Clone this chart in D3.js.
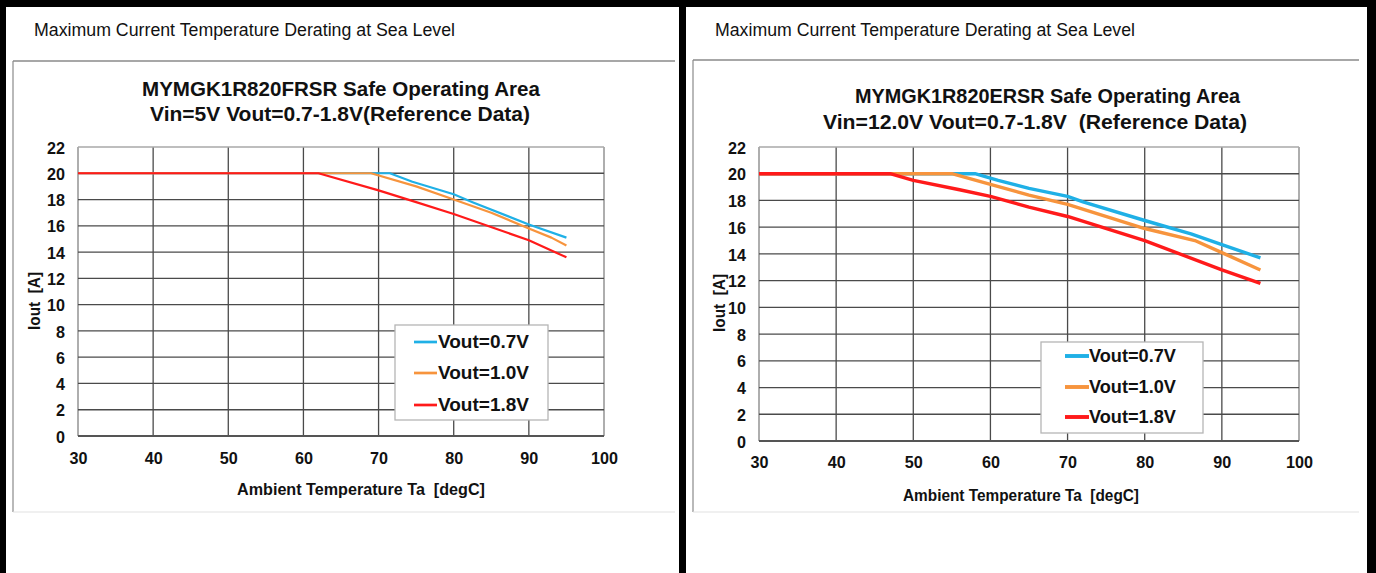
<!DOCTYPE html>
<html><head><meta charset="utf-8">
<script src="https://cdn.jsdelivr.net/npm/d3@7"></script>
<style>html,body{margin:0;padding:0;background:#fff;overflow:hidden}svg{display:block}text{white-space:pre}</style>
</head><body>
<script>
// ---------- data ----------
const xTicks = [30, 40, 50, 60, 70, 80, 90, 100];
const yTicks = [0, 2, 4, 6, 8, 10, 12, 14, 16, 18, 20, 22];
const seriesNames = ["Vout=0.7V", "Vout=1.0V", "Vout=1.8V"];
const seriesColors = ["#1FB0E6", "#F7943D", "#FF1A1A"];

// Left chart: Vin=5V
const leftT07 = [30, 71.5, 74.5, 80, 82.5, 90, 95];
const leftI07 = [20, 20, 19.35, 18.4, 17.8, 16.1, 15.1];
const leftT10 = [30, 69, 75, 80, 85, 90, 93, 95];
const leftI10 = [20, 20, 19.0, 18.0, 17.0, 15.8, 15.1, 14.5];
const leftT18 = [30, 62, 70, 75, 80, 90, 95];
const leftI18 = [20, 20, 18.7, 17.8, 16.9, 14.9, 13.6];

// Right chart: Vin=12.0V
const rightT07 = [30, 58, 61, 65, 70, 72, 80, 86, 90, 95];
const rightI07 = [20, 20, 19.5, 18.9, 18.3, 17.9, 16.5, 15.5, 14.7, 13.7];
const rightT10 = [30, 55, 60, 65, 70, 80, 86.5, 90, 95];
const rightI10 = [20, 20, 19.2, 18.4, 17.7, 15.9, 15.0, 14.1, 12.8];
const rightT18 = [30, 47, 50, 56, 60, 65, 70, 80, 90, 95];
const rightI18 = [20, 20, 19.5, 18.8, 18.3, 17.5, 16.8, 15.0, 12.8, 11.8];

const headerText = "Maximum Current Temperature Derating at Sea Level";
const leftTitle = ["MYMGK1R820FRSR Safe Operating Area", "Vin=5V Vout=0.7-1.8V(Reference Data)"];
const rightTitle = ["MYMGK1R820ERSR Safe Operating Area", "Vin=12.0V Vout=0.7-1.8V  (Reference Data)"];
const xTitle = "Ambient Temperature Ta  [degC]";
const yTitle = "Iout  [A]";

// ---------- drawing ----------
const W = 1376, H = 573;
const svg = d3.select("body").append("svg").attr("width", W).attr("height", H);
svg.append("rect").attr("width", W).attr("height", H).attr("fill", "#fff");
const FONT = "'Liberation Sans', Arial, sans-serif";

function zip(t, i) { return t.map((v, k) => ({t: v, i: i[k]})); }

function drawPanel(cfg) {
  const g = svg.append("g");
  // header
  g.append("text").attr("x", cfg.headerX).attr("y", 36)
    .attr("font-family", FONT).attr("font-size", 17.5).attr("fill", "#111")
    .attr("textLength", cfg.headerLen).attr("lengthAdjust", "spacingAndGlyphs")
    .text(headerText);
  // image frame
  g.append("line").attr("x1", cfg.frameX).attr("x2", cfg.frameR).attr("y1", cfg.frameTop).attr("y2", cfg.frameTop)
    .attr("stroke", "#8a8a8a").attr("stroke-width", 1.5);
  g.append("line").attr("x1", cfg.frameX).attr("x2", cfg.frameX).attr("y1", cfg.frameTop).attr("y2", 512)
    .attr("stroke", "#8a8a8a").attr("stroke-width", 1.2);
  g.append("line").attr("x1", cfg.frameX).attr("x2", cfg.frameR).attr("y1", 512).attr("y2", 512)
    .attr("stroke", "#e2e2e2").attr("stroke-width", 1.2);

  // titles
  cfg.titles.forEach((t, k) => {
    g.append("text").attr("x", cfg.titleX[k]).attr("y", cfg.titleY[k])
      .attr("dominant-baseline", "central")
      .attr("font-family", FONT).attr("font-weight", "bold").attr("font-size", 20.5).attr("fill", "#111")
      .attr("textLength", cfg.titleLen[k]).attr("lengthAdjust", "spacingAndGlyphs")
      .text(t);
  });

  const x = d3.scaleLinear().domain([30, 100]).range([cfg.x0, cfg.x1]);
  const y = d3.scaleLinear().domain([0, 22]).range([cfg.y0, cfg.y1]);

  // grid
  const grid = g.append("g");
  grid.selectAll("line.v").data(xTicks).enter().append("line")
    .attr("x1", d => x(d)).attr("x2", d => x(d)).attr("y1", y(0)).attr("y2", y(22))
    .attr("stroke", d => (d === 30 || d === 100) ? "#9a9a9a" : "#4a4a4a")
    .attr("stroke-width", d => (d === 30 || d === 100) ? 1.6 : 1.3);
  grid.selectAll("line.h").data(yTicks).enter().append("line")
    .attr("x1", x(30)).attr("x2", x(100)).attr("y1", d => y(d)).attr("y2", d => y(d))
    .attr("stroke", d => d === 22 ? "#a8a8a8" : (d === 0 ? "#555" : "#4a4a4a"))
    .attr("stroke-width", d => d === 0 ? 2.2 : 1.3);

  // axes labels via d3 axes
  const yAxis = g.append("g").attr("transform", `translate(${cfg.yLabelX},0)`)
    .call(d3.axisLeft(y).tickValues(yTicks).tickSize(0).tickPadding(0));
  yAxis.select(".domain").remove();
  yAxis.selectAll("text").attr("font-family", FONT).attr("font-weight", "bold").attr("font-size", 17).attr("fill", "#111").attr("dy", "0.36em")
    .attr("textLength", d => String(d).length * 9).attr("lengthAdjust", "spacingAndGlyphs");
  const xAxis = g.append("g").attr("transform", `translate(0,${cfg.xLabelY})`)
    .call(d3.axisBottom(x).tickValues(xTicks).tickSize(0).tickPadding(0).tickFormat(d3.format("d")));
  xAxis.select(".domain").remove();
  xAxis.selectAll("text").attr("font-family", FONT).attr("font-weight", "bold").attr("font-size", 17).attr("fill", "#111").attr("dy", "0.36em")
    .attr("textLength", d => String(d).length * 9).attr("lengthAdjust", "spacingAndGlyphs");

  // axis titles
  g.append("text").attr("x", cfg.xTitleX).attr("y", cfg.xTitleY).attr("dominant-baseline", "central")
    .attr("font-family", FONT).attr("font-weight", "bold").attr("font-size", 16.5).attr("fill", "#111")
    .attr("textLength", cfg.xTitleLen).attr("lengthAdjust", "spacingAndGlyphs").text(xTitle);
  g.append("text").attr("transform", `translate(${cfg.yTitleX},${cfg.yTitleY}) rotate(-90)`)
    .attr("text-anchor", "middle").attr("dominant-baseline", "central")
    .attr("font-family", FONT).attr("font-weight", "bold").attr("font-size", 16).attr("fill", "#111")
    .attr("textLength", 58).attr("lengthAdjust", "spacingAndGlyphs").text(yTitle);

  // series
  const line = d3.line().x(d => x(d.t)).y(d => y(d.i));
  cfg.series.forEach((s, k) => {
    g.append("path").datum(s).attr("d", line).attr("fill", "none")
      .attr("stroke", seriesColors[k]).attr("stroke-width", cfg.lw)
      .attr("stroke-linejoin", "round");
  });

  // legend
  const L = cfg.legend;
  g.append("rect").attr("x", L.x).attr("y", L.y).attr("width", L.w).attr("height", L.h)
    .attr("fill", "#fff").attr("stroke", "#b5b5b5").attr("stroke-width", 1.3);
  seriesNames.forEach((n, k) => {
    const yy = L.rowY[k];
    g.append("line").attr("x1", L.lx0).attr("x2", L.lx1).attr("y1", yy).attr("y2", yy)
      .attr("stroke", seriesColors[k]).attr("stroke-width", cfg.lw + 0.5);
    g.append("text").attr("x", L.tx).attr("y", yy).attr("dominant-baseline", "central")
      .attr("font-family", FONT).attr("font-weight", "bold").attr("font-size", 18).attr("fill", "#111")
      .attr("textLength", L.tLen).attr("lengthAdjust", "spacingAndGlyphs").text(n);
  });
}

drawPanel({
  headerX: 34, headerLen: 421,
  frameX: 13, frameR: 675, frameTop: 61,
  titles: leftTitle, titleX: [142, 150], titleY: [88, 113], titleLen: [398, 380],
  x0: 78, x1: 604, y0: 436, y1: 147,
  yLabelX: 65, xLabelY: 458,
  xTitleX: 237, xTitleY: 489, xTitleLen: 248,
  yTitleX: 34, yTitleY: 301,
  lw: 2.2,
  series: [zip(leftT07, leftI07), zip(leftT10, leftI10), zip(leftT18, leftI18)],
  legend: {x: 395, y: 325, w: 153, h: 95, rowY: [342, 373, 405], lx0: 414, lx1: 437, tx: 438, tLen: 91}
});

drawPanel({
  headerX: 715, headerLen: 420,
  frameX: 693, frameR: 1359, frameTop: 60,
  titles: rightTitle, titleX: [855, 823], titleY: [95, 121], titleLen: [385, 424],
  x0: 759, x1: 1299, y0: 441, y1: 147,
  yLabelX: 746, xLabelY: 462,
  xTitleX: 903, xTitleY: 495, xTitleLen: 236,
  yTitleX: 719, yTitleY: 303,
  lw: 3.4,
  series: [zip(rightT07, rightI07), zip(rightT10, rightI10), zip(rightT18, rightI18)],
  legend: {x: 1041, y: 342, w: 162, h: 91, rowY: [356, 387, 417], lx0: 1065, lx1: 1089, tx: 1089, tLen: 87}
});

// black borders
svg.append("rect").attr("x", 0).attr("y", 0).attr("width", W).attr("height", 7).attr("fill", "#000");
svg.append("rect").attr("x", 0).attr("y", 0).attr("width", 6).attr("height", H).attr("fill", "#000");
svg.append("rect").attr("x", 679).attr("y", 0).attr("width", 7).attr("height", H).attr("fill", "#000");
svg.append("rect").attr("x", 1367).attr("y", 0).attr("width", 9).attr("height", H).attr("fill", "#000");
</script>
</body></html>
